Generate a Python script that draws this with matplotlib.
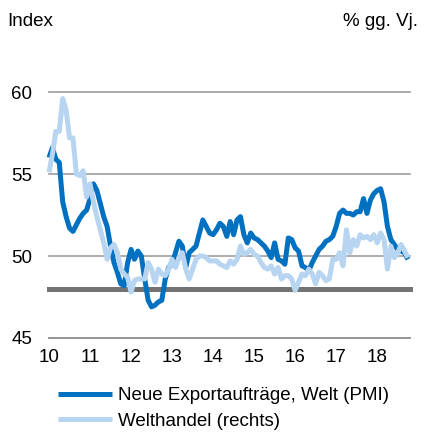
import numpy as np
import pandas as pd
import matplotlib
matplotlib.use("Agg")
import matplotlib.pyplot as plt

plt.rcParams['font.family'] = ['Liberation Sans', 'DejaVu Sans']

# monthly data, Jan 2010 - Oct 2018
months = pd.date_range("2010-01-01", "2018-10-01", freq="MS")

pmi_export = [
    56.0, 56.6, 55.9, 55.7, 53.3, 52.4, 51.7, 51.5, 51.9, 52.3, 52.6, 52.8,  # 2010
    53.5, 54.4, 54.0, 53.2, 52.4, 51.8, 50.6, 49.6, 49.0, 48.3, 48.2, 49.6,  # 2011
    50.4, 49.8, 50.3, 50.0, 48.6, 47.3, 46.9, 47.0, 47.2, 47.3, 48.6, 49.3,  # 2012
    49.5, 50.2, 50.9, 50.6, 49.3, 50.2, 50.4, 50.6, 51.4, 52.2, 51.8, 51.4,  # 2013
    51.3, 51.6, 52.0, 51.8, 51.2, 52.1, 51.3, 52.2, 52.4, 51.3, 50.8, 51.4,  # 2014
    51.1, 51.0, 50.8, 50.6, 50.3, 49.9, 50.8, 49.8, 49.7, 49.5, 51.1, 51.0,  # 2015
    50.5, 50.3, 49.4, 49.3, 49.1, 49.6, 50.0, 50.4, 50.6, 50.9, 51.0, 51.2,  # 2016
    51.8, 52.6, 52.8, 52.6, 52.6, 52.5, 52.7, 52.7, 53.5, 52.6, 53.4, 53.8,  # 2017
    54.0, 54.1, 53.3, 51.8, 51.0, 50.7, 50.4, 50.3, 50.2, 49.8,              # 2018
]

world_trade = [
    55.1, 56.2, 57.6, 57.6, 59.6, 58.9, 57.2, 57.2, 55.0, 54.9, 55.2, 53.6,  # 2010
    54.4, 53.3, 52.4, 51.6, 50.8, 49.8, 50.5, 50.7, 50.2, 49.2, 48.9, 48.7,  # 2011
    47.8, 48.5, 48.6, 48.6, 48.6, 49.6, 49.2, 48.4, 49.2, 48.9, 48.8, 49.2,  # 2012
    49.8, 49.3, 49.9, 50.2, 49.2, 48.6, 49.2, 49.8, 50.0, 50.0, 49.9, 49.7,  # 2013
    49.7, 49.7, 49.5, 49.4, 49.3, 49.7, 49.5, 49.8, 50.6, 50.1, 50.2, 50.4,  # 2014
    50.1, 50.0, 49.6, 49.3, 49.2, 49.4, 48.9, 49.3, 48.6, 48.8, 48.8, 48.6,  # 2015
    47.9, 48.4, 48.9, 48.8, 49.2, 48.9, 48.3, 49.0, 48.8, 48.5, 48.6, 49.8,  # 2016
    49.8, 50.2, 49.4, 51.6, 50.2, 51.0, 50.6, 51.3, 51.1, 51.2, 51.0, 51.3,  # 2017
    50.8, 51.4, 51.0, 49.2, 50.6, 49.9, 50.2, 50.7, 50.3, 49.9,              # 2018
]

ref_level = 48
y_ticks = [45, 50, 55, 60]
x_years = list(range(2010, 2019))
x_labels = [str(y)[2:] for y in x_years]

t = months.year + (months.month - 1) / 12.0

fig = plt.figure(figsize=(4.24, 4.32), dpi=100)
ax = fig.add_axes([0.1156, 0.2176, 0.8514, 0.5694])

for v in y_ticks:
    ax.axhline(v, color="#a6a6a6" if v != 45 else "#8c8c8c", lw=1.3, zorder=1)
ax.axhline(ref_level, color="#737373", lw=3.6, zorder=2)

l1, = ax.plot(t, pmi_export, color="#0070c0", lw=3.6, zorder=3,
              solid_joinstyle="round", solid_capstyle="butt")

ax2 = ax.twinx()
l2, = ax2.plot(t, world_trade, color="#b7d4f0", lw=3.6, zorder=3,
               solid_joinstyle="round", solid_capstyle="butt")

for a in (ax, ax2):
    a.set_xlim(2010, 2018.8)
    a.set_ylim(45, 60)
    for s in a.spines.values():
        s.set_visible(False)
    a.patch.set_visible(False)
ax2.set_yticks([])
ax.set_yticks(y_ticks)
ax.set_yticklabels([str(v) for v in y_ticks])
ax.set_xticks(x_years)
ax.set_xticklabels(x_labels)
ax.tick_params(axis="both", length=0, labelsize=13.5, colors="black")
ax.tick_params(axis="y", pad=12)
ax.tick_params(axis="x", pad=8)
for lab in ax.get_lines():
    lab.set_clip_on(False)
l2.set_clip_on(False)

fig.text(0.018, 0.95, "Index", fontsize=13.5, ha="left", va="center")
fig.text(0.985, 0.95, "% gg. Vj.", fontsize=13.5, ha="right", va="center")

fig.legend([l1, l2], ["Neue Exportaufträge, Welt (PMI)", "Welthandel (rechts)"],
           loc="upper left", bbox_to_anchor=(0.137, 0.104), frameon=False,
           fontsize=13.5, handlelength=2.9, handletextpad=0.27,
           labelspacing=0.45, borderpad=0, borderaxespad=0)

fig.savefig("out.png", dpi=100)
